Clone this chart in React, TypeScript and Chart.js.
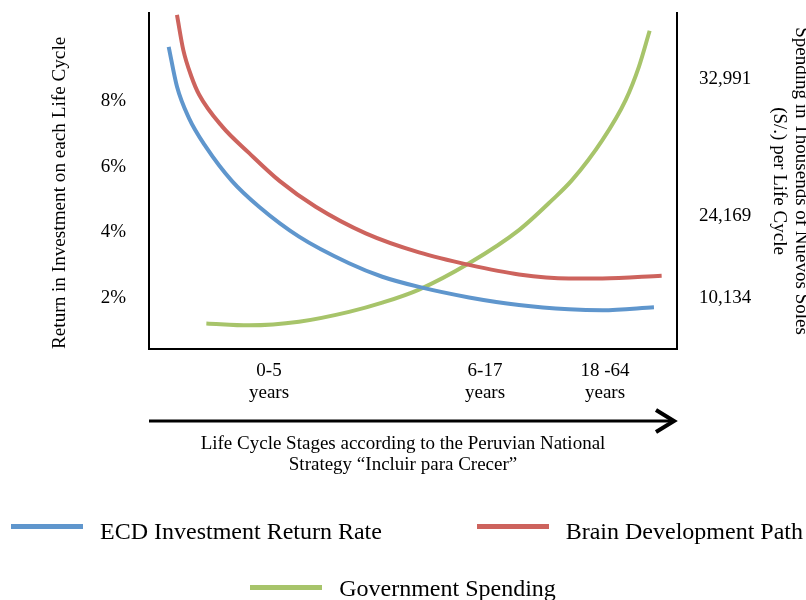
import React, { useEffect, useRef } from "react";
import { Chart, registerables } from "chart.js";

Chart.register(...registerables);

// ---- data (x = position along the life cycle, abstract units) ----
const stagePositions = [10, 28, 38];
const stageLabels = [["0-5", "years"], ["6-17", "years"], ["18 -64", "years"]];

const returnTicks = [2, 4, 6, 8];
const spendingTickPositions = [2.0, 4.5, 8.66];
const spendingTickLabels = ["10,134", "24,169", "32,991"];

const ecdX = [1.64, 2.33, 3.33, 4.73, 6.92, 9.17, 12.5, 16.67, 19.44, 22.5, 26.67, 30.83, 35, 37.78, 42.08];
const ecdY = [9.65, 8.44, 7.48, 6.61, 5.56, 4.78, 3.87, 3.06, 2.65, 2.34, 2.02, 1.79, 1.66, 1.63, 1.72];

const brainX = [2.33, 2.86, 3.54, 4.17, 6.11, 8.33, 10.9, 13.89, 18.06, 22.5, 26.67, 30.83, 35, 37.78, 42.72];
const brainY = [10.62, 9.55, 8.74, 8.2, 7.22, 6.42, 5.56, 4.78, 3.97, 3.39, 3.01, 2.72, 2.6, 2.6, 2.68];

const spendX = [4.78, 8.33, 12.5, 16.67, 19.44, 22.5, 26.67, 30.83, 33.61, 35.25, 37.78, 39.72, 40.83, 41.72];
const spendY = [1.23, 1.17, 1.28, 1.58, 1.86, 2.26, 3.06, 4.07, 4.99, 5.59, 6.81, 8.03, 9.05, 10.14];

const seriesNames = ["ECD Investment Return Rate", "Brain Development Path", "Government Spending"];
const xTitle = ["Life Cycle Stages according to the Peruvian National", "Strategy \u201CIncluir para Crecer\u201D"];
const yTitle = "Return in Investment on each Life Cycle";
const y2Title = ["Spending in Thousends of Nuevos Soles", "(S/.) per Life Cycle"];

// ---- styles ----
const BLUE = "#5F96CD";
const RED = "#CD635D";
const GREEN = "#A7C46A";
const SERIF = '"Liberation Serif", "Times New Roman", serif';

const toPoints = (xs: number[], ys: number[]) => xs.map((x, i) => ({ x, y: ys[i] }));

const arrowPlugin = {
  id: "lifeCycleArrow",
  afterDraw(chart: any) {
    const xs = chart.scales.x;
    const ctx = chart.ctx;
    const y = xs.top + 72;
    const x0 = xs.left;
    const x1 = xs.right - 3;
    ctx.save();
    ctx.strokeStyle = "#000";
    ctx.lineWidth = 3;
    ctx.beginPath();
    ctx.moveTo(x0, y);
    ctx.lineTo(x1 - 3, y);
    ctx.stroke();
    ctx.lineWidth = 4;
    ctx.lineJoin = "miter";
    ctx.beginPath();
    ctx.moveTo(x1 - 18, y - 11);
    ctx.lineTo(x1, y);
    ctx.lineTo(x1 - 18, y + 11);
    ctx.stroke();
    ctx.restore();
  },
};

const Y_MIN = 0.45;
const Y_MAX = 10.68;

function LegendItem({ color, label, shift }: { color: string; label: string; shift: number }) {
  return (
    <div style={{ display: "flex", alignItems: "center" }}>
      <div style={{ width: 72, height: 5, background: color, marginRight: 17, position: "relative", top: shift }} />
      <span style={{ fontFamily: SERIF, fontSize: 24, lineHeight: "30px", color: "#000", whiteSpace: "nowrap" }}>{label}</span>
    </div>
  );
}

export default function App() {
  const ref = useRef<HTMLCanvasElement | null>(null);

  useEffect(() => {
    if (!ref.current) return;
    const lineCommon = {
      borderWidth: 4,
      pointRadius: 0,
      pointHoverRadius: 0,
      fill: false,
      cubicInterpolationMode: "monotone" as const,
    };
    const chart = new Chart(ref.current, {
      type: "line",
      data: {
        datasets: [
          { label: seriesNames[0], data: toPoints(ecdX, ecdY), borderColor: BLUE, yAxisID: "y", ...lineCommon },
          { label: seriesNames[1], data: toPoints(brainX, brainY), borderColor: RED, yAxisID: "y", ...lineCommon },
          { label: seriesNames[2], data: toPoints(spendX, spendY), borderColor: GREEN, yAxisID: "y2", ...lineCommon },
        ],
      },
      options: {
        responsive: false,
        animation: false,
        devicePixelRatio: 1,
        layout: { padding: { top: 13, bottom: 123.75, left: 0, right: 0 } },
        plugins: {
          legend: { display: false },
          tooltip: { enabled: false },
          title: {
            display: true,
            position: "bottom",
            text: xTitle,
            color: "#000",
            font: { family: SERIF, size: 19, weight: "normal", lineHeight: 21.5 / 19 },
            padding: { top: 4.25, bottom: 0 },
          },
        },
        scales: {
          x: {
            type: "linear",
            min: 0,
            max: 44,
            grid: { display: false, drawTicks: false },
            border: { display: true, color: "#000", width: 2 },
            afterBuildTicks: (s: any) => {
              s.ticks = stagePositions.map((v) => ({ value: v }));
            },
            afterFit: (s: any) => {
              s.height = 80;
              s.paddingLeft = 0;
              s.paddingRight = 0;
            },
            ticks: {
              padding: 11,
              autoSkip: false,
              maxRotation: 0,
              minRotation: 0,
              color: "#000",
              font: { family: SERIF, size: 19, lineHeight: 22 / 19 },
              callback: (_v: any, i: number) => stageLabels[i],
            },
          },
          y: {
            type: "linear",
            position: "left",
            min: Y_MIN,
            max: Y_MAX,
            grid: { display: false, drawTicks: false },
            border: { display: true, color: "#000", width: 2 },
            afterBuildTicks: (s: any) => {
              s.ticks = returnTicks.map((v) => ({ value: v }));
            },
            afterFit: (s: any) => {
              s.width = 149;
              s.paddingTop = 0;
              s.paddingBottom = 0;
            },
            title: {
              display: true,
              text: yTitle,
              align: "start",
              color: "#000",
              font: { family: SERIF, size: 19.2, lineHeight: 1.2 },
              padding: { top: 48, bottom: 0 },
            },
            ticks: {
              padding: 23,
              color: "#000",
              font: { family: SERIF, size: 19 },
              callback: (v: any) => `${v}%`,
            },
          },
          y2: {
            type: "linear",
            position: "right",
            min: Y_MIN,
            max: Y_MAX,
            grid: { display: false, drawTicks: false },
            border: { display: true, color: "#000", width: 2 },
            afterBuildTicks: (s: any) => {
              s.ticks = spendingTickPositions.map((v) => ({ value: v }));
            },
            afterFit: (s: any) => {
              s.width = 129;
              s.paddingTop = 0;
              s.paddingBottom = 0;
            },
            title: {
              display: true,
              text: y2Title,
              color: "#000",
              font: { family: SERIF, size: 19, lineHeight: 22 / 19 },
              padding: { top: -6.4, bottom: 0 },
            },
            ticks: {
              padding: 22,
              color: "#000",
              font: { family: SERIF, size: 19 },
              callback: (_v: any, i: number) => spendingTickLabels[i],
            },
          },
        },
      },
      plugins: [arrowPlugin],
    });
    return () => chart.destroy();
  }, []);

  return (
    <div style={{ position: "fixed", left: 0, top: 0, width: 806, height: 600, background: "#fff", overflow: "hidden" }}>
      <canvas ref={ref} width={806} height={600} style={{ display: "block", width: 806, height: 600 }} />
      <div
        style={{
          position: "absolute",
          left: 11,
          right: 3,
          top: 516,
          display: "flex",
          justifyContent: "space-between",
          alignItems: "center",
        }}
      >
        <LegendItem color={BLUE} label={seriesNames[0]} shift={-5} />
        <LegendItem color={RED} label={seriesNames[1]} shift={-5} />
      </div>
      <div
        style={{
          position: "absolute",
          left: 0,
          right: 0,
          top: 573,
          display: "flex",
          justifyContent: "center",
          alignItems: "center",
        }}
      >
        <LegendItem color={GREEN} label={seriesNames[2]} shift={-1} />
      </div>
    </div>
  );
}
